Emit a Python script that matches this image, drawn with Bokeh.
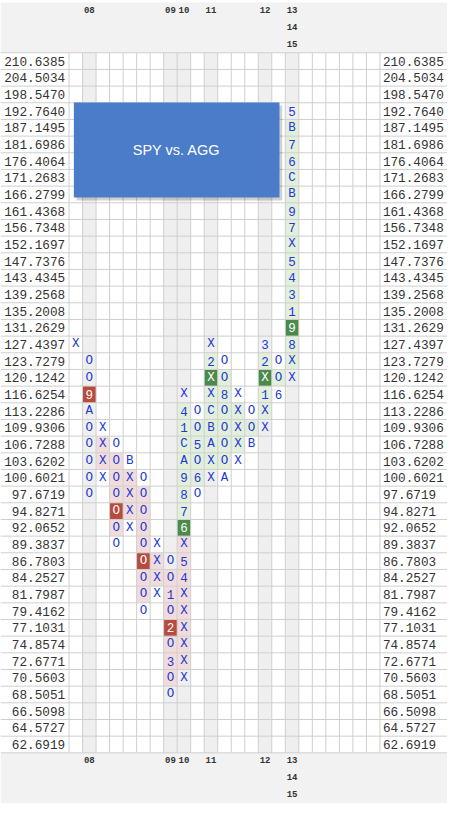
from bokeh.plotting import figure
from bokeh.models import Range1d, ColumnDataSource
from bokeh.core.properties import value
from bokeh.embed import file_html
from bokeh.resources import INLINE

# ---------------- data ----------------
box_values = ["210.6385", "204.5034", "198.5470", "192.7640", "187.1495", "181.6986",
              "176.4064", "171.2683", "166.2799", "161.4368", "156.7348", "152.1697",
              "147.7376", "143.4345", "139.2568", "135.2008", "131.2629", "127.4397",
              "123.7279", "120.1242", "116.6254", "113.2286", "109.9306", "106.7288",
              "103.6202", "100.6021", "97.6719", "94.8271", "92.0652", "89.3837",
              "86.7803", "84.2527", "81.7987", "79.4162", "77.1031", "74.8574",
              "72.6771", "70.5603", "68.5051", "66.5098", "64.5727", "62.6919"]

# each column: index of its top box (row in box_values) and its boxes from top to bottom
col_top_rows = [17, 18, 22, 23, 24, 25, 29, 30, 20, 21, 17, 18, 20, 21, 17, 18, 3]
col_marks = ["X", "OO9AOOOOO", "XXXX", "OOOOOOO", "BXXXX", "OOOOOOOOO", "XXXX",
             "OO1O2O3OO", "X41CA9876X54XXXXXX", "OO5O6O", "X2XXCBAXX", "OO8OOOOA",
             "XXXXX", "OOB", "32X1XX", "OO6", "5B76CB97X543198XX"]

year_labels = ["08", "09", "10", "11", "12", "13", "14", "15"]
year_cols = [1, 7, 8, 10, 14, 16, 16, 16]
year_lines = [0, 0, 0, 0, 0, 0, 1, 2]

signal_cols = [1, 3, 5, 7, 8, 10, 14, 16]
signal_rows = [20, 27, 30, 34, 28, 19, 19, 16]
signal_kind = ["sell", "sell", "sell", "sell", "buy", "buy", "buy", "buy"]

shade_cols = [2, 3, 4, 5, 6, 7, 8, 8, 9, 10, 11, 12, 13, 14, 15, 16]
shade_first = [23, 24, 25, 26, 30, 31, 29, 21, 22, 18, 19, 21, 22, 18, 19, 4]
shade_last = [24, 28, 27, 32, 31, 37, 36, 27, 25, 24, 24, 23, 22, 21, 19, 18]
shade_kind = ["sell"] * 7 + ["buy"] * 9

title_text = "SPY vs. AGG"

# ---------------- layout ----------------
NCOLS = 23
NROWS = len(box_values)
X0, X1 = -5.571, 27.5
Y0, Y1 = -3.54, 44.635
GRID_TOP = NROWS - 0.5
GRID_BOT = -0.5

def yrow(r):
    return (NROWS - 1) - r

BLUE = "#2038d8"
LIGHT = {"sell": "#f2dcdb", "buy": "#e2efda"}
DARK = {"sell": "#b84a3e", "buy": "#4a8a4a"}
MONO = value("Liberation Mono")

p = figure(width=447, height=803, x_range=Range1d(X0, X1), y_range=Range1d(Y0, Y1),
           toolbar_location=None, output_backend="svg", min_border=0,
           x_axis_location=None, y_axis_location=None, outline_line_color=None,
           background_fill_color="white", border_fill_color="white")
p.grid.grid_line_color = None

# header / footer bands
p.quad(left=[X0, X0], right=[X1, X1], bottom=[GRID_TOP, Y0], top=[Y1 - 0.12, GRID_BOT],
       fill_color="#f2f2f2", line_color=None)

# year columns shading
gcols = sorted(set(year_cols))
p.quad(left=[c - 0.5 for c in gcols], right=[c + 0.5 for c in gcols],
       bottom=GRID_BOT, top=GRID_TOP, fill_color="#efefef", line_color=None)

# light shading of boxes
sx, sy, sc = [], [], []
for c, a, b, k in zip(shade_cols, shade_first, shade_last, shade_kind):
    for r in range(a, b + 1):
        sx.append(c); sy.append(yrow(r)); sc.append(LIGHT[k])
p.rect(x="x", y="y", width=1, height=1, fill_color="c", line_color=None,
       source=ColumnDataSource(dict(x=sx, y=sy, c=sc)))

# signal boxes
p.rect(x=signal_cols, y=[yrow(r) for r in signal_rows], width=1, height=1,
       fill_color=[DARK[k] for k in signal_kind], line_color=None)

# grid lines
hy = [GRID_TOP - i for i in range(NROWS + 1)]
p.segment(x0=X0, x1=X1, y0=hy, y1=hy, line_color="#cfcfcf", line_width=1)
vx = [c - 0.5 for c in range(NCOLS + 1)]
p.segment(x0=vx, x1=vx, y0=GRID_BOT, y1=GRID_TOP, line_color="#cfcfcf", line_width=1)

# box marks
sig = set(zip(signal_cols, signal_rows))
tx, ty, tt, tc = [], [], [], []
for c, (top, marks) in enumerate(zip(col_top_rows, col_marks)):
    for i, ch in enumerate(marks):
        r = top + i
        tx.append(c); ty.append(yrow(r)); tt.append(ch)
        tc.append("white" if (c, r) in sig else BLUE)
p.text(x="x", y="y", text="t", text_color="c", text_font=MONO, text_font_size="12.5px",
       text_align="center", text_baseline="middle",
       source=ColumnDataSource(dict(x=tx, y=ty, t=tt, c=tc)))

# price labels left and right
ly = [yrow(r) for r in range(NROWS)]
p.text(x=-0.79, y=ly, text=box_values, text_font=MONO, text_font_size="12.7px",
       text_color="#333333", text_align="right", text_baseline="middle")
p.text(x=22.72, y=ly, text=box_values, text_font=MONO, text_font_size="12.7px",
       text_color="#333333", text_align="left", text_baseline="middle")

# year labels top and bottom
p.text(x=year_cols, y=[44.05 - l for l in year_lines], text=year_labels, text_font=MONO,
       text_font_size="9px", text_font_style="bold", text_color="#333333",
       text_align="center", text_baseline="middle")
p.text(x=year_cols, y=[-0.95 - l * 1.02 for l in year_lines], text=year_labels, text_font=MONO,
       text_font_size="9px", text_font_style="bold", text_color="#333333",
       text_align="center", text_baseline="middle")

# title box
bl, br, bb, bt = -0.143, 15.07, 32.81, 38.52
p.quad(left=[bl + 0.2], right=[br + 0.2], bottom=[bb - 0.18], top=[bt - 0.18],
       fill_color="black", fill_alpha=0.18, line_color=None)
p.quad(left=[bl], right=[br], bottom=[bb], top=[bt], fill_color="#4a7cc9", line_color=None)
p.text(x=[(bl + br) / 2], y=[(bb + bt) / 2], text=[title_text], text_color="white",
       text_font=value("Liberation Sans"), text_font_size="14.5px",
       text_align="center", text_baseline="middle")

open("out.html", "w").write(file_html(p, INLINE))
